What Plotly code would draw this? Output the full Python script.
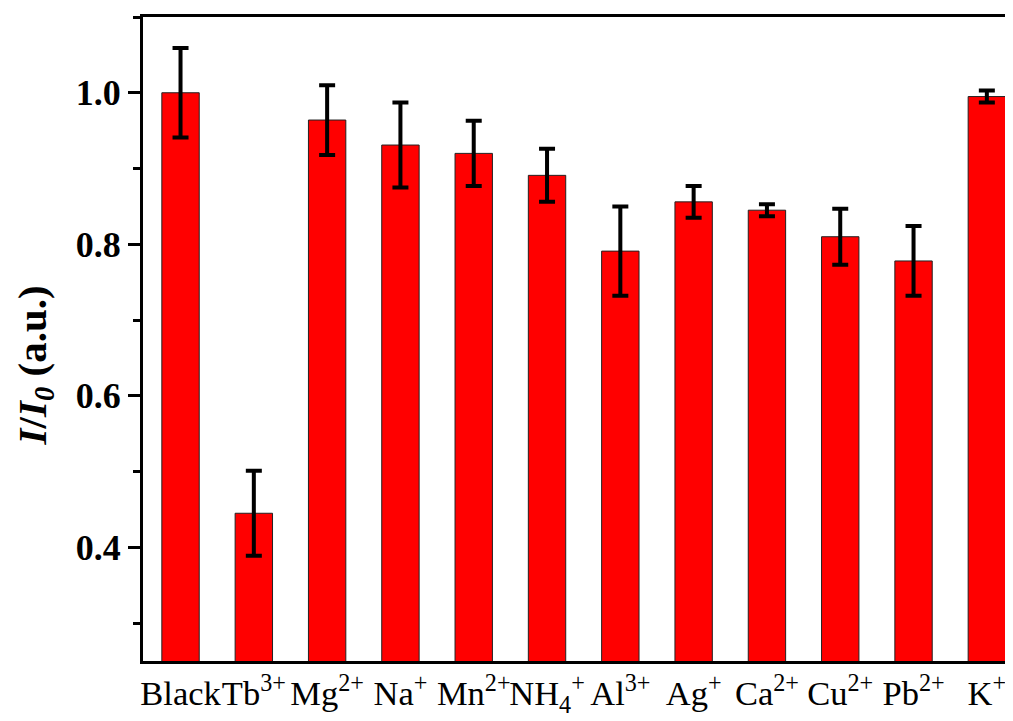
import plotly.graph_objects as go

categories = ["Black", "Tb<sup>3+</sup>", "Mg<sup>2+</sup>", "Na<sup>+</sup>", "Mn<sup>2+</sup>",
              "NH<sub>4</sub><sup>+</sup>", "Al<sup>3+</sup>", "Ag<sup>+</sup>", "Ca<sup>2+</sup>",
              "Cu<sup>2+</sup>", "Pb<sup>2+</sup>", "K<sup>+</sup>"]
values = [1.000, 0.445, 0.964, 0.931, 0.920, 0.891, 0.791, 0.856, 0.845, 0.810, 0.778, 0.995]
errors = [0.059, 0.056, 0.046, 0.056, 0.043, 0.035, 0.059, 0.021, 0.008, 0.037, 0.046, 0.008]
y_tickvals = [0.4, 0.6, 0.8, 1.0]
y_ticktext = ["0.4", "0.6", "0.8", "1.0"]
y_title = "<i>I</i>/<i>I</i><sub><i>0</i></sub> (a.u.)"

fig = go.Figure()
fig.add_trace(go.Bar(
    x=categories, y=values, width=0.51,
    marker=dict(color="#ff0000", line=dict(color="#222222", width=1)),
    error_y=dict(type="data", array=errors, visible=True, color="black", thickness=4, width=8),
))

fig.update_layout(
    width=1013, height=721,
    margin=dict(l=135, r=0, t=9, b=68),
    plot_bgcolor="white", paper_bgcolor="white",
    showlegend=False,
    font=dict(family="Liberation Serif", color="black"),
)
fig.update_xaxes(
    type="category", range=[-0.512, 11.466], automargin=False,
    showline=True, linecolor="black", linewidth=3, mirror=True,
    ticks="", showgrid=False, tickangle=0,
    tickfont=dict(family="Liberation Serif", size=34.5, color="black"),
)
fig.update_yaxes(
    range=[0.25, 1.1], automargin=False,
    tickvals=y_tickvals, ticktext=y_ticktext,
    showline=True, linecolor="black", linewidth=3, mirror=False,
    ticks="outside", ticklen=12, tickwidth=3, tickcolor="black",
    minor=dict(dtick=0.1, tick0=0, ticks="outside", ticklen=7, tickwidth=3, tickcolor="black", showgrid=False),
    showgrid=False, zeroline=False,
    tickfont=dict(family="Liberation Serif", size=36, color="black", weight="bold"),
)
fig.add_annotation(
    text=y_title, textangle=-90, showarrow=False,
    xref="paper", yref="paper", x=-0.123, y=0.459, xanchor="center", yanchor="middle",
    font=dict(family="Liberation Serif", size=41, color="black", weight="bold"),
)

fig.write_html("out.html")
